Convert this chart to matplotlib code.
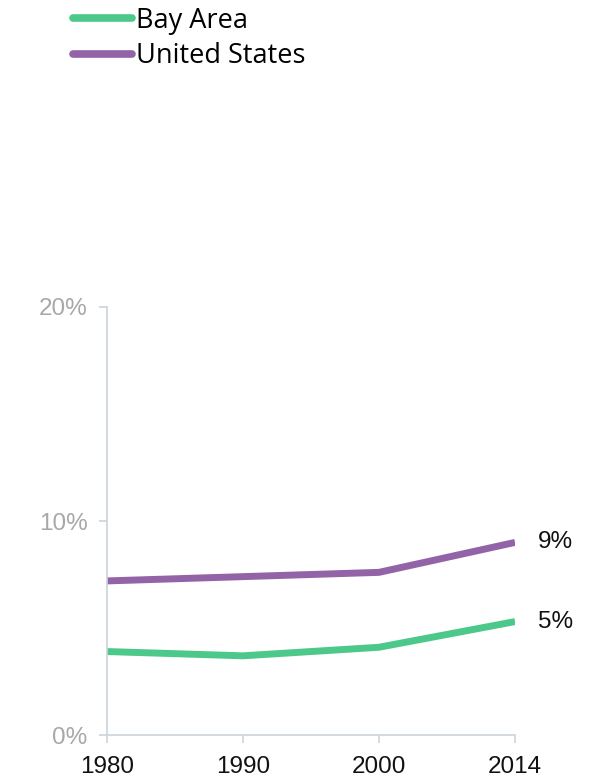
import matplotlib.pyplot as plt

years = ["1980", "1990", "2000", "2014"]
bay_area = [3.9, 3.7, 4.1, 5.3]
united_states = [7.2, 7.4, 7.6, 9.0]
y_ticks = [0, 10, 20]
y_tick_labels = ["0%", "10%", "20%"]

GREEN = "#4cc98a"
PURPLE = "#9363a8"
AXIS = "#cbd4dc"

plt.rcParams["font.family"] = ["Liberation Sans", "DejaVu Sans"]

fig = plt.figure(figsize=(5.93, 7.79), dpi=100)
ax = fig.add_axes([107 / 593, 1 - 735 / 779, 408 / 593, 428 / 779])

x = range(len(years))
ax.plot(x, bay_area, color=GREEN, linewidth=5, label="Bay Area", solid_capstyle="butt")
ax.plot(x, united_states, color=PURPLE, linewidth=5, label="United States", solid_capstyle="butt")

# end labels
for series in (bay_area, united_states):
    ax.annotate(f"{series[-1]:.0f}%", (len(years) - 1, series[-1]), xytext=(16.5, 0),
                textcoords="offset points", va="center", ha="left", fontsize=17.5, color="#111111")

ax.set_xlim(0, len(years) - 1)
ax.set_ylim(0, 20)
ax.set_xticks(list(x))
ax.set_xticklabels(years, fontsize=17.5, color="#111111")
ax.set_yticks(y_ticks)
ax.set_yticklabels(y_tick_labels, fontsize=17.5, color="#a8a8a8")
ax.tick_params(axis="both", length=6, width=1.2, color=AXIS)
ax.tick_params(axis="x", pad=9)
ax.tick_params(axis="y", pad=8)
for side in ("top", "right"):
    ax.spines[side].set_visible(False)
for side in ("left", "bottom"):
    ax.spines[side].set_color(AXIS)
    ax.spines[side].set_linewidth(1.2)

leg = fig.legend(loc="upper left", bbox_to_anchor=(62 / 593, 1.0 + 4 / 779), frameon=False,
                 prop={"family": "Open Sans", "size": 19.5}, handlelength=2.2,
                 handletextpad=0.12, labelspacing=0.28, borderaxespad=0)
for line in leg.get_lines():
    line.set_linewidth(5.5)
    line.set_solid_capstyle("round")

fig.savefig("out.png", dpi=100)
